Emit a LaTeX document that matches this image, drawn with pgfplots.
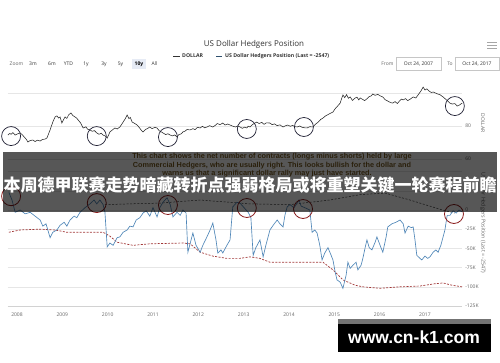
\documentclass[border=0pt]{standalone}
\usepackage{pgfplots}
\pgfplotsset{compat=1.18}
\usepackage{fontspec}
\setmainfont{Open Sans}
\newfontfamily\cjk{Noto Sans CJK SC}
\newfontfamily\arial{Liberation Sans}
\definecolor{lblgray}{HTML}{666666}
\definecolor{titlegray}{HTML}{333333}
\definecolor{gridgray}{HTML}{E6E6E6}
\definecolor{bluel}{HTML}{4F86B8}
\definecolor{redd}{HTML}{A23838}
\definecolor{circblk}{HTML}{1E1E32}
\definecolor{circred}{HTML}{8A1C1C}
\definecolor{anntext}{HTML}{2A200C}
\definecolor{btnsel}{HTML}{E6EBF5}

\pgfplotstableread{
x y
2007.80 74.5
2007.84 75.5
2007.87 75.0
2007.91 76.0
2007.96 74.5
2008.01 75.2
2008.07 75.8
2008.12 74.6
2008.18 72.7
2008.21 71.8
2008.24 70.3
2008.29 71.2
2008.35 71.5
2008.40 70.6
2008.45 71.4
2008.51 70.9
2008.56 71.8
2008.62 72.1
2008.66 72.7
2008.70 75.5
2008.73 77.6
2008.76 80.0
2008.79 82.4
2008.84 85.5
2008.88 86.1
2008.92 84.8
2008.95 85.5
2008.99 81.8
2009.02 83.5
2009.06 85.5
2009.10 84.6
2009.14 86.8
2009.19 87.9
2009.23 86.4
2009.28 85.5
2009.32 84.7
2009.35 83.6
2009.40 82.0
2009.46 78.8
2009.52 79.5
2009.56 78.0
2009.61 77.6
2009.66 76.8
2009.71 77.2
2009.76 75.8
2009.81 75.0
2009.86 75.6
2009.90 74.5
2009.95 73.9
2009.99 72.7
2010.02 74.5
2010.05 76.4
2010.10 77.5
2010.16 78.8
2010.21 78.2
2010.27 79.4
2010.32 81.5
2010.38 84.0
2010.43 86.7
2010.47 84.5
2010.50 85.2
2010.54 82.4
2010.60 81.5
2010.65 80.6
2010.70 79.0
2010.74 77.5
2010.78 76.4
2010.83 77.8
2010.88 78.5
2010.93 79.4
2010.98 78.4
2011.04 79.2
2011.09 78.8
2011.14 77.0
2011.18 76.5
2011.22 75.8
2011.28 74.8
2011.33 75.3
2011.38 74.5
2011.43 74.0
2011.48 74.6
2011.53 73.3
2011.57 74.8
2011.62 75.2
2011.66 76.4
2011.71 76.9
2011.75 77.9
2011.82 77.6
2011.88 78.4
2011.93 77.8
2011.98 79.2
2012.04 78.8
2012.09 79.8
2012.14 78.9
2012.19 79.4
2012.25 80.2
2012.32 79.4
2012.37 80.3
2012.42 81.5
2012.48 80.8
2012.54 81.8
2012.59 80.6
2012.65 81.2
2012.70 80.6
2012.76 79.9
2012.82 79.4
2012.87 80.0
2012.92 79.4
2012.97 78.6
2013.02 79.3
2013.07 78.8
2013.10 79.9
2013.14 79.4
2013.20 81.0
2013.25 81.8
2013.29 82.4
2013.34 81.5
2013.40 82.2
2013.45 81.0
2013.50 81.9
2013.58 81.8
2013.63 80.8
2013.68 81.3
2013.74 80.2
2013.80 80.7
2013.87 79.4
2013.92 80.1
2013.97 80.6
2014.03 79.8
2014.08 80.4
2014.13 79.6
2014.18 79.4
2014.24 80.0
2014.29 79.2
2014.35 78.9
2014.40 78.8
2014.46 79.6
2014.53 79.4
2014.58 81.0
2014.64 82.2
2014.70 84.0
2014.75 84.8
2014.81 86.2
2014.86 86.9
2014.92 87.8
2014.97 88.5
2015.02 90.5
2015.07 92.0
2015.13 93.9
2015.16 96.5
2015.19 98.8
2015.23 97.2
2015.27 99.0
2015.31 96.8
2015.35 97.6
2015.40 95.5
2015.45 96.8
2015.50 97.5
2015.54 95.8
2015.57 97.0
2015.62 96.2
2015.67 95.4
2015.72 96.5
2015.77 97.8
2015.81 98.2
2015.85 99.4
2015.90 98.6
2015.96 99.2
2016.01 98.3
2016.07 97.6
2016.12 96.0
2016.18 95.1
2016.24 94.2
2016.29 93.9
2016.34 94.8
2016.39 93.6
2016.44 95.2
2016.48 96.3
2016.52 95.8
2016.57 96.6
2016.62 95.4
2016.67 96.2
2016.74 97.6
2016.80 97.0
2016.85 98.9
2016.91 101.2
2016.96 103.6
2017.00 101.8
2017.04 102.5
2017.09 101.2
2017.14 100.3
2017.18 100.6
2017.23 100.0
2017.28 99.4
2017.33 99.0
2017.40 97.6
2017.45 96.4
2017.50 95.2
2017.55 93.9
2017.60 93.3
2017.66 93.6
2017.71 92.1
2017.76 92.7
2017.82 93.9
}\dollar

\pgfplotstableread{
x y
2007.82 23
2007.89 13
2007.96 -3
2008.07 0
2008.18 -5
2008.29 -3
2008.40 -8
2008.51 -13
2008.57 -21
2008.64 -18
2008.73 -36
2008.79 -29
2008.88 -26
2008.95 -20
2009.04 -16
2009.10 -21
2009.17 -13
2009.26 -8
2009.32 -10
2009.39 -3
2009.50 3
2009.61 8
2009.70 13
2009.76 8
2009.83 13
2009.90 7
2009.94 -3
2009.99 -48
2010.05 -43
2010.12 -46
2010.21 -36
2010.27 -35
2010.34 -29
2010.43 -26
2010.49 -21
2010.56 -22
2010.63 -13
2010.71 -10
2010.78 -4
2010.85 -1
2010.93 -8
2011.00 3
2011.09 -9
2011.15 3
2011.22 10
2011.31 16
2011.38 7
2011.44 -9
2011.53 -3
2011.60 -7
2011.66 0
2011.73 -4
2011.77 -55
2011.84 -39
2011.88 -30
2011.95 -46
2012.04 -55
2012.10 -46
2012.19 -35
2012.26 -26
2012.32 -17
2012.39 -39
2012.43 -56
2012.50 -52
2012.54 -56
2012.63 -46
2012.70 -39
2012.76 4
2012.85 10
2012.92 9
2013.01 3
2013.10 -3
2013.16 -10
2013.21 -59
2013.27 -49
2013.36 -39
2013.43 -61
2013.49 -46
2013.58 -26
2013.65 -20
2013.74 -13
2013.80 -18
2013.87 -22
2013.91 -7
2013.96 4
2014.02 7
2014.11 3
2014.18 9
2014.22 13
2014.27 5
2014.35 3
2014.46 0
2014.51 -29
2014.57 -26
2014.62 -30
2014.68 -46
2014.73 -65
2014.79 -56
2014.86 -49
2014.93 -59
2014.97 -65
2015.02 -81
2015.06 -91
2015.13 -94
2015.19 -102
2015.26 -85
2015.30 -68
2015.35 -76
2015.41 -72
2015.48 -68
2015.52 -78
2015.59 -72
2015.63 -63
2015.68 -49
2015.72 -39
2015.77 -49
2015.83 -52
2015.90 -42
2015.94 -35
2016.01 -46
2016.07 -55
2016.14 -36
2016.18 -22
2016.27 -18
2016.36 -16
2016.45 -13
2016.52 -18
2016.56 -30
2016.63 -21
2016.70 -23
2016.74 -22
2016.78 -39
2016.82 -59
2016.89 -63
2016.93 -65
2017.00 -60
2017.06 -63
2017.11 -61
2017.18 -55
2017.24 -52
2017.29 -55
2017.35 -46
2017.40 -35
2017.44 -26
2017.49 -7
2017.55 -7
2017.62 -1
2017.69 -4
2017.75 0
2017.82 -2.5
}\hedge

\pgfplotstableread{
x y
2007.82 -29
2008.07 -26
2008.51 -25
2008.84 -26
2009.10 -29
2009.50 -29
2009.90 -29
2010.05 -34
2010.21 -42
2010.56 -46
2010.93 -44
2011.66 -43
2011.82 -44
2012.04 -55
2012.32 -60
2012.63 -63
2012.92 -63
2013.14 -61
2013.36 -63
2013.58 -68
2014.02 -68
2014.46 -68
2014.75 -68
2014.97 -78
2015.19 -91
2015.46 -98
2015.63 -100
2016.01 -102
2016.45 -100
2016.89 -99
2017.22 -96
2017.40 -95
2017.60 -98
2017.82 -100
}\avgline

\pgfplotstableread{
x y
2009.94 7
2010.49 8
2011.15 9
2012.04 13
2013.14 8
2014.02 7
2014.90 13
2015.57 20
2016.12 22
2016.67 13
2017.11 5
2017.44 -1
2017.66 -4
}\darkdash

\begin{document}
\begin{tikzpicture}[x=1pt,y=1pt]
\useasboundingbox (0,0) rectangle (500,362);
\fill[white] (0,0) rectangle (500,362);

% ---------- top pane: DOLLAR ----------
\begin{axis}[at={(7.93pt,198.05pt)}, anchor=south west, scale only axis,
  width=454.2pt, height=84.15pt,
  xmin=2007.8, xmax=2017.82, ymin=57, ymax=108,
  axis line style={draw=none}, tick style={draw=none},
  xtick=\empty, ytick={60,80,100}, yticklabels={60,80,},
  yticklabel pos=right, ymajorgrids,
  major grid style={gridgray, line width=0.5pt},
  yticklabel style={font=\fontsize{5}{5}\selectfont, text=lblgray, anchor=west, inner sep=0pt, xshift=3pt},
  clip=false]
\addplot[black!85, line width=0.55pt] table {\dollar};
\addplot[only marks, mark=o, mark size=9.5pt, mark options={draw=circblk, line width=0.7pt}] coordinates {
 (2007.87,73.9) (2009.76,73.9) (2011.33,73.3) (2013.07,78.2) (2014.33,79.4) (2017.66,92.1)};
\end{axis}

% ---------- bottom pane: hedgers ----------
\begin{axis}[at={(7.93pt,56pt)}, anchor=south west, scale only axis,
  width=454.2pt, height=134.4pt,
  xmin=2007.8, xmax=2017.82, ymin=-125, ymax=50,
  axis line style={draw=none}, tick style={draw=none},
  xtick={2008,2009,2010,2011,2012,2013,2014,2015,2016,2017},
  xticklabels={2008,2009,2010,2011,2012,2013,2014,2015,2016,2017},
  xticklabel style={font=\fontsize{5}{5}\selectfont, text=lblgray, anchor=center, inner sep=0pt, yshift=-9pt},
  ytick={-125,-100,-75,-50,-25,0,25,50}, yticklabels={-125K,-100K,-75K,-50K,-25K,0,,},
  yticklabel pos=right, ymajorgrids,
  major grid style={gridgray, line width=0.5pt},
  yticklabel style={font=\fontsize{5}{5}\selectfont, text=lblgray, anchor=west, inner sep=0pt, xshift=3pt},
  clip=false]
\addplot[black!75, line width=0.5pt, dash pattern=on 2pt off 1.6pt] table {\darkdash};
\addplot[redd, line width=0.7pt, dash pattern=on 2pt off 1.4pt] table {\avgline};
\addplot[bluel, line width=0.65pt] table {\hedge};
\addplot[only marks, mark=o, mark size=9.5pt, mark options={draw=circred, line width=0.8pt}] coordinates {
 (2007.87,18) (2009.76,9) (2011.33,6.5) (2013.07,2.6) (2014.31,1.3) (2017.64,-5.2)};
\end{axis}
\draw[gridgray!80!gray, line width=0.5pt] (7.93,56) -- (462.1,56);

% right axis titles
\node[rotate=-90, font=\fontsize{5}{5}\selectfont, text=lblgray] at (483,239) {DOLLAR};
\node[rotate=-90, font=\fontsize{5.3}{5.3}\selectfont, text=lblgray] at (483,139) {US Dollar Hedgers Position (Last = -2547)};

% ---------- header ----------
\node[font=\fontsize{8}{8}\selectfont, text=titlegray] at (254,318) {US Dollar Hedgers Position};
\draw[black!80, line width=0.8pt] (173,306) -- (180,306);
\node[anchor=west, inner sep=0pt, font=\fontsize{5.2}{5.2}\selectfont\bfseries, text=titlegray] at (182,306) {DOLLAR};
\draw[bluel!60!black, line width=0.8pt] (216,306) -- (222,306);
\node[anchor=west, inner sep=0pt, font=\fontsize{5.2}{5.2}\selectfont\bfseries, text=titlegray] at (225,306) {US Dollar Hedgers Position (Last = -2547)};

\fill[btnsel] (132,293) rectangle (146,303);
\begin{scope}[every node/.style={font=\fontsize{5}{5}\selectfont, inner sep=0pt}]
\node[text=lblgray] at (16.5,298) {Zoom};
\node[text=titlegray] at (33,298) {3m};
\node[text=titlegray] at (52,298) {6m};
\node[text=titlegray] at (68.5,298) {YTD};
\node[text=titlegray] at (86,298) {1y};
\node[text=titlegray] at (104,298) {3y};
\node[text=titlegray] at (120.5,298) {5y};
\node[text=black, font=\fontsize{5}{5}\selectfont\bfseries] at (139,298) {10y};
\node[text=titlegray] at (154.5,298) {All};
\node[text=lblgray] at (387.5,298) {From};
\node[text=lblgray] at (450,298) {To};
\node[text=titlegray] at (418.5,298) {Oct 24, 2007};
\node[text=titlegray] at (477,298) {Oct 24, 2017};
\end{scope}
\draw[gray!45, line width=0.4pt] (396,292) rectangle (441,305);
\draw[gray!45, line width=0.4pt] (455,292) rectangle (499,305);
\draw[gray!70, line width=0.9pt] (487,320) -- (497,320) (487,317) -- (497,317) (487,314) -- (497,314);

% ---------- overlay banner ----------
\fill[black, opacity=0.66] (3,150) rectangle (497,210);
\begin{scope}[every node/.style={font=\arial\bfseries\fontsize{7.3}{7.3}\selectfont, text=anntext, inner sep=0pt}]
\node at (272,205) {This chart shows the net number of contracts (longs minus shorts) held by large};
\node at (272,196) {Commercial Hedgers, who are usually right. This looks bullish for the dollar and};
\node at (267,188) {warns us that a significant dollar rally may just have started.};
\end{scope}
\node[font=\cjk\bfseries\fontsize{17}{17}\selectfont, text=white, inner sep=0pt] at (250,177) {本周德甲联赛走势暗藏转折点强弱格局或将重塑关键一轮赛程前瞻};

% ---------- watermark box ----------
\fill[black!55] (338,38) rectangle (491,43);
\fill[black] (338,10) rectangle (491,38);
\node[font=\arial\bfseries\fontsize{17.5}{17.5}\selectfont, text=white, inner sep=0pt] at (414,24.5) {www.cn-k1.com};
\end{tikzpicture}
\end{document}
